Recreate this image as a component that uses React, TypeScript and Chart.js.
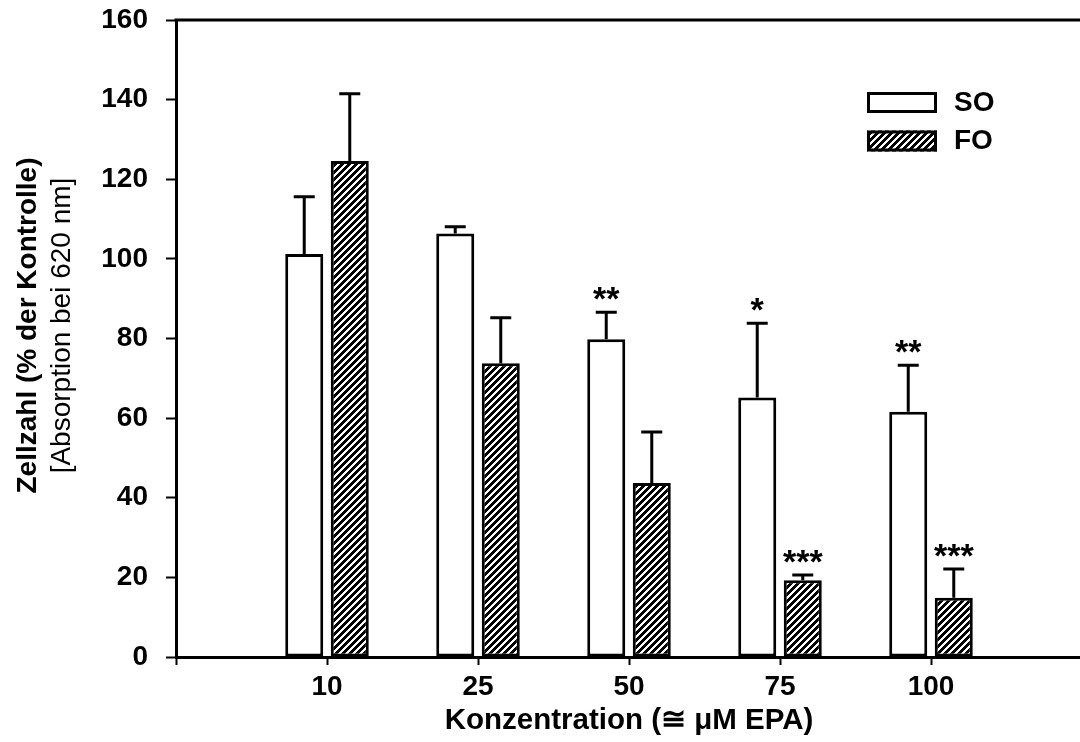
import React, { useEffect, useRef } from 'react';
import { Chart, registerables } from 'chart.js';

Chart.register(...registerables);

// ---- data ----
const categories = ['10', '25', '50', '75', '100'];
const soValues = [101.2, 106.4, 79.8, 65.2, 61.6];
const soErrors = [14.4, 1.7, 6.8, 18.6, 11.7];
const foValues = [124.6, 73.8, 43.7, 19.3, 14.9];
const foErrors = [16.9, 11.4, 12.8, 1.3, 7.2];
const soStars = ['', '', '**', '*', '**'];
const foStars = ['', '', '', '***', '***'];
const seriesNames = ['SO', 'FO'];
const yMin = 0;
const yMax = 160;
const yStep = 20;
const xTitle = 'Konzentration (≅ μM EPA)';
const yTitleBold = 'Zellzahl (% der Kontrolle)';
const yTitleRegular = '[Absorption bei 620 nm]';

const FONT = '"Liberation Sans", Arial, Helvetica, sans-serif';

const pad = <T,>(arr: T[]): (T | null)[] => [null, ...arr, null];

function makeHatch(): CanvasPattern | string {
  const p = 7;
  const c = document.createElement('canvas');
  c.width = p;
  c.height = p;
  const ctx = c.getContext('2d');
  if (!ctx) return '#888';
  const img = ctx.createImageData(p, p);
  for (let y = 0; y < p; y++) {
    for (let x = 0; x < p; x++) {
      const black = (x + y) % p < 4;
      const i = (y * p + x) * 4;
      const v = black ? 0 : 255;
      img.data[i] = v;
      img.data[i + 1] = v;
      img.data[i + 2] = v;
      img.data[i + 3] = 255;
    }
  }
  ctx.putImageData(img, 0, 0);
  return ctx.createPattern(c, 'repeat') || '#888';
}

const errorBarPlugin = {
  id: 'errorBarsStars',
  afterDatasetsDraw(chart: any) {
    const ctx = chart.ctx as CanvasRenderingContext2D;
    const yScale = chart.scales.y;
    chart.data.datasets.forEach((ds: any, di: number) => {
      const meta = chart.getDatasetMeta(di);
      meta.data.forEach((el: any, i: number) => {
        const v = ds.data[i];
        const e = ds.errors[i];
        if (v == null || e == null) return;
        const x = el.x;
        const y0 = yScale.getPixelForValue(v);
        const y1 = yScale.getPixelForValue(v + e);
        ctx.save();
        ctx.strokeStyle = '#000';
        ctx.lineWidth = 3;
        ctx.beginPath();
        ctx.moveTo(x, y0);
        ctx.lineTo(x, y1);
        ctx.moveTo(x - 10.5, y1);
        ctx.lineTo(x + 10.5, y1);
        ctx.stroke();
        const s = ds.stars[i];
        if (s) {
          ctx.fillStyle = '#000';
          ctx.font = `bold 34px ${FONT}`;
          ctx.textAlign = 'center';
          ctx.textBaseline = 'alphabetic';
          ctx.fillText(s, x, y1 - 2);
        }
        ctx.restore();
      });
    });
  },
};

const framePlugin = {
  id: 'frameLegendTitle',
  afterDraw(chart: any) {
    const ctx = chart.ctx as CanvasRenderingContext2D;
    const { left, right, top, bottom } = chart.chartArea;
    ctx.save();
    // top frame line
    ctx.strokeStyle = '#000';
    ctx.lineWidth = 3;
    ctx.beginPath();
    ctx.moveTo(left - 1.5, top);
    ctx.lineTo(right, top);
    ctx.stroke();

    // legend
    const lx = left + 691;
    const ly = top + 72;
    chart.data.datasets.forEach((ds: any, di: number) => {
      const by = ly + di * 38.5;
      ctx.fillStyle = ds.backgroundColor;
      ctx.fillRect(lx, by, 70, 21);
      ctx.strokeStyle = '#000';
      ctx.lineWidth = 3;
      ctx.strokeRect(lx + 1.5, by + 1.5, 67, 18);
      ctx.fillStyle = '#000';
      ctx.font = `bold 28px ${FONT}`;
      ctx.textAlign = 'left';
      ctx.textBaseline = 'middle';
      ctx.fillText(ds.label, lx + 87, by + 11);
    });

    // y axis title (two lines, different weights)
    const cy = (top + bottom) / 2 - 13;
    ctx.translate(0, cy);
    ctx.rotate(-Math.PI / 2);
    ctx.textAlign = 'center';
    ctx.textBaseline = 'middle';
    ctx.fillStyle = '#000';
    ctx.font = `bold 28px ${FONT}`;
    ctx.fillText(yTitleBold, 0, 28);
    ctx.font = `28px ${FONT}`;
    ctx.fillText(yTitleRegular, 0, 62);
    ctx.restore();
  },
};

export default function App() {
  const ref = useRef<HTMLCanvasElement | null>(null);
  useEffect(() => {
    if (!ref.current) return;
    const hatch = makeHatch();
    const chart = new Chart(ref.current, {
      type: 'bar',
      data: {
        labels: ['', ...categories, ''],
        datasets: [
          {
            label: seriesNames[0],
            data: pad(soValues) as any,
            backgroundColor: '#ffffff',
            borderColor: '#000000',
            borderWidth: 3,
            borderSkipped: false,
            categoryPercentage: 0.603,
            barPercentage: 0.835,
            errors: pad(soErrors),
            stars: pad(soStars),
          } as any,
          {
            label: seriesNames[1],
            data: pad(foValues) as any,
            backgroundColor: hatch as any,
            borderColor: '#000000',
            borderWidth: 3,
            borderSkipped: false,
            categoryPercentage: 0.603,
            barPercentage: 0.835,
            errors: pad(foErrors),
            stars: pad(foStars),
          } as any,
        ],
      },
      options: {
        responsive: false,
        animation: false,
        devicePixelRatio: 1,
        layout: { padding: { top: 20, right: 18, left: 0, bottom: 0 } },
        plugins: {
          legend: { display: false },
          tooltip: { enabled: false },
        },
        scales: {
          x: {
            type: 'category',
            offset: false,
            grid: {
              display: true,
              offset: false,
              drawOnChartArea: false,
              drawTicks: true,
              tickLength: 8,
              tickWidth: 2,
              tickColor: '#000',
            },
            border: { display: true, color: '#000', width: 3 },
            ticks: {
              autoSkip: false,
              maxRotation: 0,
              minRotation: 0,
              padding: 5,
              color: '#000',
              font: { family: FONT, size: 28, weight: 'bold' },
            },
            title: {
              display: true,
              text: xTitle,
              color: '#000',
              font: { family: FONT, size: 29.5, weight: 'bold' },
              padding: { top: 0, bottom: 3 },
            },
            afterFit: (scale: any) => {
              scale.height = 85;
              scale.paddingLeft = 0;
              scale.paddingRight = 0;
            },
          },
          y: {
            min: yMin,
            max: yMax,
            grid: {
              display: true,
              drawOnChartArea: false,
              drawTicks: true,
              tickLength: 10,
              tickWidth: 2,
              tickColor: '#000',
            },
            border: { display: true, color: '#000', width: 3 },
            ticks: {
              stepSize: yStep,
              padding: 18,
              color: '#000',
              font: { family: FONT, size: 28, weight: 'bold' },
            },
            afterFit: (scale: any) => {
              scale.width = 176;
              scale.paddingTop = 0;
              scale.paddingBottom = 0;
            },
          },
        },
      } as any,
      plugins: [errorBarPlugin, framePlugin],
    });
    return () => chart.destroy();
  }, []);

  return (
    <div
      style={{
        position: 'fixed',
        left: 0,
        top: 0,
        width: 1080,
        height: 742,
        overflow: 'hidden',
        background: '#fff',
      }}
    >
      <canvas ref={ref} width={1100} height={742} style={{ display: 'block' }} />
    </div>
  );
}
